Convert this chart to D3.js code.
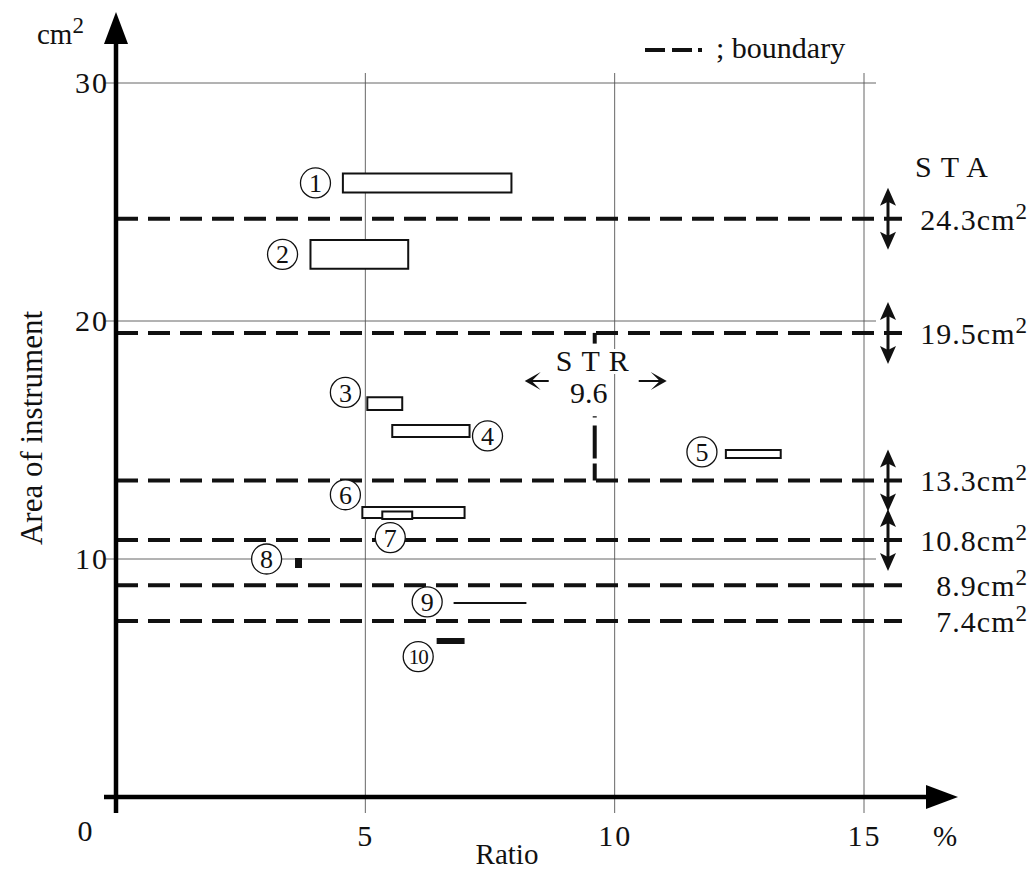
<html>
  <head>
    <meta charset="utf-8">
    <style>
      body { margin: 0; background: #fff; }
      text { font-family: "Liberation Serif", "Times New Roman", "DejaVu Serif", "Noto Serif", serif; fill: #111; }
      .grid { stroke: #555; stroke-width: 0.9px; }
      .boundary { stroke: #111; stroke-width: 4px; stroke-dasharray: 22 10; fill: none; }
      .axis-line { stroke: #000; stroke-width: 4.5px; }
      .item { fill: #fff; stroke: #111; stroke-width: 2px; }
      .item.solid { fill: #111; }
      .circ { fill: #fff; stroke: #111; stroke-width: 1.3px; }
    </style>
  </head>
<body>
  <svg width="1030" height="879"></svg>
  <script src="https://d3js.org/d3.v7.min.js"></script>
  <script>
    // ratio (%) and area (cm2) ranges of each instrument
    var items = ["1", "2", "3", "4", "5", "6", "7", "8", "9", "10"];
    var ratioLow  = [4.55, 3.90, 5.04, 5.54, 12.23, 4.94, 5.34, 3.61, 6.77, 6.45];
    var ratioHigh = [7.93, 5.86, 5.74, 7.09, 13.33, 6.99, 5.94, 3.71, 8.23, 6.97];
    var areaLow   = [25.4, 22.2, 16.26, 15.13, 14.24, 11.72, 11.68, 9.66, 8.15, 6.47];
    var areaHigh  = [26.2, 23.4, 16.80, 15.63, 14.58, 12.18, 12.00, 10.0, 8.15, 6.64];
    var solidItems = ["8", "10"];
    // where each circled number sits (data units)
    var labelRatio = [4.0, 3.34, 4.6, 7.45, 11.75, 4.6, 5.5, 3.02, 6.24, 6.06];
    var labelArea  = [25.8, 22.8, 17.0, 15.17, 14.5, 12.7, 10.9, 10.0, 8.2, 5.9];

    var boundaries = [24.3, 19.5, 13.3, 10.8, 8.9, 7.4];
    var arrowed = [24.3, 19.5, 13.3, 10.8];
    var strValue = 9.6;

    var xTicks = [5, 10, 15];
    var yTicks = [10, 20, 30];

    var svg = d3.select("svg");
    svg.append("rect").attr("width", 1030).attr("height", 879).attr("fill", "#fff");

    var x = d3.scaleLinear().domain([0, 15]).range([116, 864]);
    var y = d3.scaleLinear().domain([0, 30]).range([797, 83]);

    // grid
    svg.selectAll(".vgrid").data(xTicks).enter().append("line")
        .attr("class", "grid")
        .attr("x1", function(d) { return x(d); }).attr("x2", function(d) { return x(d); })
        .attr("y1", 73).attr("y2", 813);
    svg.selectAll(".hgrid").data(yTicks).enter().append("line")
        .attr("class", "grid")
        .attr("x1", 104).attr("x2", 876)
        .attr("y1", function(d) { return y(d); }).attr("y2", function(d) { return y(d); });

    // boundaries
    svg.selectAll(".boundary").data(boundaries).enter().append("line")
        .attr("class", "boundary")
        .attr("x1", x(0)).attr("x2", 902)
        .attr("y1", function(d) { return y(d); }).attr("y2", function(d) { return y(d); });

    // double arrows on the right
    var ax = 888;
    arrowed.forEach(function(v) {
      var yc = y(v);
      svg.append("line").attr("x1", ax).attr("x2", ax).attr("y1", yc - 20).attr("y2", yc + 20)
        .attr("stroke", "#111").attr("stroke-width", 3);
      svg.append("path").attr("d", "M" + ax + "," + (yc - 31) + "L" + (ax - 8) + "," + (yc - 13) + "L" + ax + "," + (yc - 17) + "L" + (ax + 8) + "," + (yc - 13) + "Z")
        .attr("fill", "#111");
      svg.append("path").attr("d", "M" + ax + "," + (yc + 31) + "L" + (ax - 8) + "," + (yc + 13) + "L" + ax + "," + (yc + 17) + "L" + (ax + 8) + "," + (yc + 13) + "Z")
        .attr("fill", "#111");
    });

    // boundary labels
    svg.selectAll(".blabel").data(boundaries).enter().append("text")
        .attr("class", "blabel")
        .attr("x", 1028)
        .attr("y", function(d) { return y(d) + 11; })
        .attr("text-anchor", "end")
        .style("font-size", "30px")
        .style("letter-spacing", "1px")
        .each(function(d) {
          var t = d3.select(this);
          t.append("tspan").text(d.toFixed(1) + "cm");
          t.append("tspan").attr("dy", -11).style("font-size", "23px").text("2");
        });
    svg.append("text").attr("x", 915).attr("y", 177)
        .style("font-size", "30px").style("letter-spacing", "1px").text("S T A");

    // STR marker
    svg.append("line").attr("class", "boundary")
        .attr("x1", x(strValue)).attr("x2", x(strValue))
        .attr("y1", y(13.3)).attr("y2", y(16.0))
        .style("stroke-dasharray", "17 5 33 8 4 100");
    svg.append("line").attr("class", "boundary")
        .attr("x1", x(strValue)).attr("x2", x(strValue))
        .attr("y1", y(19.5)).attr("y2", y(19.05))
        .style("stroke-dasharray", "none");
    svg.append("text").attr("x", x(strValue) - 2).attr("y", 371)
        .attr("text-anchor", "middle")
        .style("font-size", "30px").style("letter-spacing", "1px")
        .attr("stroke", "#fff").attr("stroke-width", 6).style("paint-order", "stroke")
        .text("S T R");
    svg.append("text").attr("x", x(strValue) - 6).attr("y", 403)
        .attr("text-anchor", "middle")
        .style("font-size", "30px")
        .text(strValue.toFixed(1));
    var sx = x(strValue), sy = 381;
    [[-70, -46], [72, 44]].forEach(function(p) {
      var tip = sx + p[0], tail = sx + p[1], dir = p[0] < 0 ? 1 : -1;
      svg.append("line").attr("x1", tip + dir * 4).attr("x2", tail).attr("y1", sy).attr("y2", sy)
        .attr("stroke", "#111").attr("stroke-width", 2);
      svg.append("path")
        .attr("d", "M" + (tip + dir * 16) + "," + (sy - 9) + "L" + tip + "," + sy + "L" + (tip + dir * 16) + "," + (sy + 9)
          + "L" + (tip + dir * 7) + "," + sy + "Z")
        .attr("fill", "#111");
    });

    // instruments
    svg.selectAll(".item").data(items).enter().append("path")
        .attr("class", function(d) { return solidItems.indexOf(d) >= 0 ? "item solid" : "item"; })
        .attr("d", function(d, i) {
          var x0 = x(ratioLow[i]), x1 = x(ratioHigh[i]), y0 = y(areaHigh[i]), y1 = y(areaLow[i]);
          return "M" + x0 + "," + y0 + "H" + x1 + "V" + y1 + "H" + x0 + "Z";
        });

    var lab = svg.selectAll(".lab").data(items).enter().append("g")
        .attr("transform", function(d, i) { return "translate(" + x(labelRatio[i]) + "," + y(labelArea[i]) + ")"; });
    lab.append("circle").attr("class", "circ").attr("r", 15);
    lab.append("text")
        .attr("text-anchor", "middle")
        .attr("dy", "0.35em")
        .style("font-size", function(d) { return d.length > 1 ? "21px" : "26px"; })
        .style("letter-spacing", function(d) { return d.length > 1 ? "-1px" : "0px"; })
        .text(function(d) { return d; });

    // axes ticks
    var gx = svg.append("g").attr("transform", "translate(0," + y(0) + ")")
        .call(d3.axisBottom(x).tickValues(xTicks).tickSize(0).tickPadding(28));
    var gy = svg.append("g").attr("transform", "translate(" + x(0) + ",0)")
        .call(d3.axisLeft(y).tickValues(yTicks).tickSize(0).tickPadding(7));
    gx.select(".domain").remove();
    gy.select(".domain").remove();
    svg.selectAll(".tick text")
        .style("font-family", "'Liberation Serif', 'Times New Roman', 'DejaVu Serif', serif")
        .style("font-size", "30px")
        .style("letter-spacing", "2px")
        .attr("fill", "#111");

    // thick axes with arrows
    svg.append("line").attr("class", "axis-line")
        .attr("x1", x(0)).attr("x2", x(0)).attr("y1", 40).attr("y2", 813);
    svg.append("path").attr("d", "M" + x(0) + ",12L" + (x(0) - 12) + ",44L" + (x(0) + 12) + ",44Z").attr("fill", "#000");
    svg.append("line").attr("class", "axis-line")
        .attr("x1", 104).attr("x2", 930).attr("y1", y(0)).attr("y2", y(0));
    svg.append("path").attr("d", "M958," + y(0) + "L926," + (y(0) - 12) + "L926," + (y(0) + 12) + "Z").attr("fill", "#000");

    svg.append("text").attr("x", 85).attr("y", 841).attr("text-anchor", "middle")
        .style("font-size", "30px").text("0");

    // axis titles
    var unitY = svg.append("text").attr("x", 37).attr("y", 44).style("font-size", "29px");
    unitY.append("tspan").text("cm");
    unitY.append("tspan").attr("dy", -11).style("font-size", "23px").text("2");
    svg.append("text").attr("x", 945).attr("y", 846).attr("text-anchor", "middle")
        .style("font-size", "29px").text("%");
    svg.append("text").attr("x", 507).attr("y", 864).attr("text-anchor", "middle")
        .style("font-size", "29px").text("Ratio");
    svg.append("text").attr("transform", "translate(42,428) rotate(-90)").attr("text-anchor", "middle")
        .style("font-size", "31px").text("Area of instrument");

    // legend
    svg.append("line").attr("x1", 645).attr("x2", 704).attr("y1", 50).attr("y2", 50)
        .attr("stroke", "#111").attr("stroke-width", 4).attr("stroke-dasharray", "20 7 20 6 4 100");
    svg.append("text").attr("x", 716).attr("y", 58).style("font-size", "30px").text("; boundary");
  </script>
</body>
</html>
